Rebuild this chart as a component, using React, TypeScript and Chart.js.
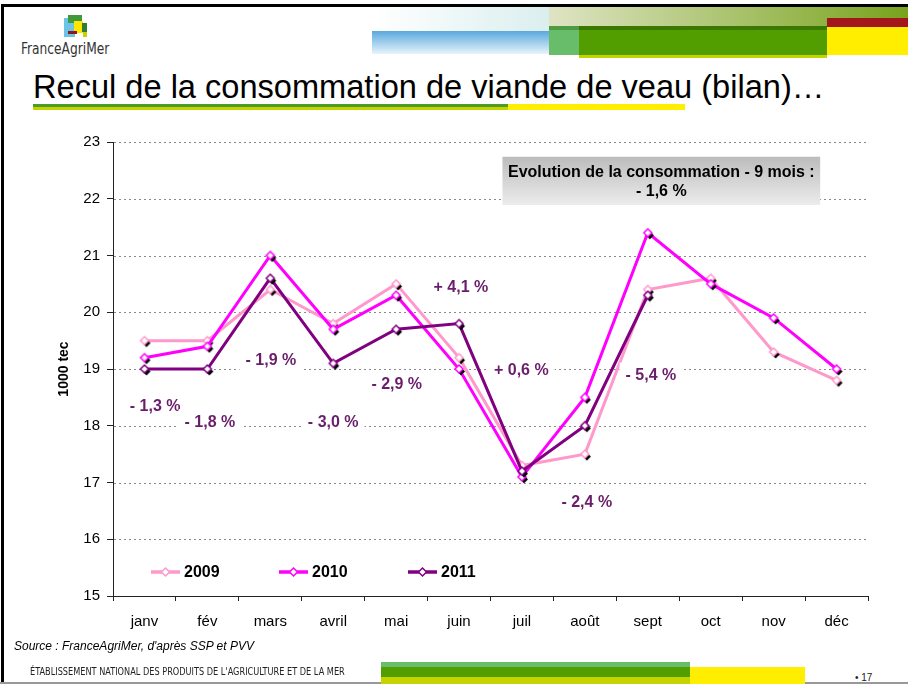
import React, { useEffect, useRef } from 'react';
import { Chart, registerables } from 'chart.js';

Chart.register(...registerables);

// ---------- data ----------
const months = ['janv', 'fév', 'mars', 'avril', 'mai', 'juin', 'juil', 'août', 'sept', 'oct', 'nov', 'déc'];
const seriesNames = ['2009', '2010', '2011'];
const values2009 = [19.5, 19.5, 20.4, 19.8, 20.5, 19.2, 17.3, 17.5, 20.4, 20.6, 19.3, 18.8];
const values2010 = [19.2, 19.4, 21.0, 19.7, 20.3, 19.0, 17.1, 18.5, 21.4, 20.5, 19.9, 19.0];
const values2011 = [19.0, 19.0, 20.6, 19.1, 19.7, 19.8, 17.2, 18.0, 20.3, null, null, null];
const yMin = 15;
const yMax = 23;
const yStep = 1;
const yTitle = '1000 tec';

// percent annotations: text, category position (index), value position
const pctLabels = ['- 1,3 %', '- 1,8 %', '- 1,9 %', '- 3,0 %', '- 2,9 %', '+ 4,1 %', '+ 0,6 %', '- 2,4 %', '- 5,4 %'];
const pctAtIndex = [0.17, 1.04, 2.01, 3.0, 4.01, 5.03, 5.99, 7.03, 8.05];
const pctAtValue = [18.35, 18.08, 19.16, 18.08, 18.74, 20.46, 18.99, 16.66, 18.9];

const boxLines = ['Evolution de la consommation - 9 mois :', '- 1,6 %'];

const colors = ['#FF99CC', '#FF00FF', '#800080'];
const labelColor = '#6a1d6a';
const FONT = '"Liberation Sans", Arial, Helvetica, sans-serif';
const NARROW = '"DejaVu Sans Condensed", "Liberation Sans", sans-serif';

function diamond(g: CanvasRenderingContext2D, cx: number, cy: number, r: number) {
  g.beginPath();
  g.moveTo(cx, cy - r);
  g.lineTo(cx + r, cy);
  g.lineTo(cx, cy + r);
  g.lineTo(cx - r, cy);
  g.closePath();
}

function makeMarker(color: string) {
  const size = 18;
  const c = document.createElement('canvas');
  c.width = size;
  c.height = size;
  const g = c.getContext('2d')!;
  const m = size / 2;
  diamond(g, m + 2, m + 2.5, 4);
  g.fillStyle = '#000';
  g.fill();
  diamond(g, m, m, 4);
  g.fillStyle = '#fff';
  g.fill();
  g.lineWidth = 1.5;
  g.strokeStyle = color;
  g.stroke();
  return c;
}

const gridPlugin = {
  id: 'dottedGrid',
  beforeDatasetsDraw(chart: any) {
    const { ctx, chartArea, scales } = chart;
    const ys = scales.y;
    ctx.save();
    ctx.strokeStyle = '#8a8a8a';
    ctx.lineWidth = 1;
    ctx.setLineDash([2, 3]);
    for (let v = yMin + yStep; v <= yMax + 1e-9; v += yStep) {
      const py = Math.round(ys.getPixelForValue(v)) + 0.5;
      ctx.beginPath();
      ctx.moveTo(chartArea.left + 1, py);
      ctx.lineTo(chartArea.right, py);
      ctx.stroke();
    }
    ctx.restore();
  },
};

const overlayPlugin = {
  id: 'overlay',
  afterDatasetsDraw(chart: any) {
    const { ctx, chartArea, scales } = chart;
    const xs = scales.x;
    const ys = scales.y;
    ctx.save();

    // percent labels
    ctx.font = `bold 16px ${FONT}`;
    ctx.textAlign = 'center';
    ctx.textBaseline = 'middle';
    pctLabels.forEach((t, i) => {
      const px = xs.getPixelForValue(pctAtIndex[i]);
      const py = ys.getPixelForValue(pctAtValue[i]);
      const w = ctx.measureText(t).width;
      ctx.fillStyle = '#fff';
      ctx.fillRect(px - w / 2 - 6, py - 12, w + 12, 24);
      ctx.fillStyle = labelColor;
      ctx.fillText(t, px, py + 1);
    });

    // grey box
    const bx1 = xs.getPixelForValue(5.69);
    const bx2 = xs.getPixelForValue(10.74);
    const by1 = ys.getPixelForValue(22.74);
    const by2 = ys.getPixelForValue(21.89);
    const grad = ctx.createLinearGradient(0, by1, 0, by2);
    grad.addColorStop(0, '#bcbcbc');
    grad.addColorStop(1, '#ececec');
    ctx.fillStyle = grad;
    ctx.fillRect(bx1, by1, bx2 - bx1, by2 - by1);
    ctx.fillStyle = '#000';
    ctx.font = `bold 16px ${FONT}`;
    const bcx = (bx1 + bx2) / 2;
    ctx.fillText(boxLines[0], bcx, by1 + 16);
    ctx.fillText(boxLines[1], bcx, by1 + 35);

    // legend
    const ly = chartArea.bottom - 24;
    const lxs = [38, 166, 295];
    seriesNames.forEach((name, i) => {
      const x0 = chartArea.left + lxs[i];
      ctx.strokeStyle = colors[i];
      ctx.lineWidth = 3.5;
      ctx.beginPath();
      ctx.moveTo(x0, ly);
      ctx.lineTo(x0 + 29, ly);
      ctx.stroke();
      diamond(ctx, x0 + 14.5, ly, 4);
      ctx.fillStyle = '#fff';
      ctx.fill();
      ctx.lineWidth = 1.5;
      ctx.stroke();
      ctx.fillStyle = '#000';
      ctx.font = `bold 16px ${FONT}`;
      ctx.textAlign = 'left';
      ctx.fillText(name, x0 + 33, ly + 1);
    });

    // y title
    ctx.translate(64, (chartArea.top + chartArea.bottom) / 2);
    ctx.rotate(-Math.PI / 2);
    ctx.textAlign = 'center';
    ctx.font = `bold 14px ${FONT}`;
    ctx.fillStyle = '#000';
    ctx.fillText(yTitle, 0, 0);
    ctx.restore();
  },
};

function Box(p: { l: number; t: number; w: number; h: number; bg: string }) {
  return <div style={{ position: 'absolute', left: p.l, top: p.t, width: p.w, height: p.h, background: p.bg }} />;
}

export default function App() {
  const ref = useRef<HTMLCanvasElement>(null);

  useEffect(() => {
    const markers = colors.map(makeMarker);
    const seriesValues = [values2009, values2010, values2011];
    const chart = new Chart(ref.current!, {
      type: 'line',
      data: {
        labels: months,
        datasets: seriesNames.map((name, i) => ({
          label: name,
          data: seriesValues[i],
          borderColor: colors[i],
          backgroundColor: colors[i],
          borderWidth: 3,
          pointStyle: markers[i] as any,
          pointRadius: 5,
          tension: 0,
          spanGaps: false,
          order: 3 - i,
        })),
      },
      options: {
        responsive: false,
        animation: false,
        events: [],
        layout: { padding: { left: 0, right: 40, top: 22, bottom: 0 } },
        plugins: {
          legend: { display: false },
          tooltip: { enabled: false },
        },
        scales: {
          x: {
            type: 'category',
            offset: true,
            grid: {
              offset: true,
              drawOnChartArea: false,
              drawTicks: true,
              tickLength: 5,
              tickColor: '#222',
              tickWidth: 1,
            },
            border: { display: true, color: '#222', width: 1 },
            ticks: {
              color: '#000',
              font: { family: FONT, size: 15 },
              padding: 12,
              maxRotation: 0,
              autoSkip: false,
            },
            afterFit: (s: any) => {
              s.height = 44;
            },
          },
          y: {
            type: 'linear',
            min: yMin,
            max: yMax,
            ticks: {
              stepSize: yStep,
              color: '#000',
              font: { family: FONT, size: 15 },
              padding: 7,
            },
            grid: {
              drawOnChartArea: false,
              drawTicks: true,
              tickLength: 6,
              tickColor: '#222',
              tickWidth: 1,
            },
            border: { display: true, color: '#222', width: 1 },
            afterFit: (s: any) => {
              s.width = 113;
            },
          },
        },
      },
      plugins: [gridPlugin, overlayPlugin],
    });
    return () => chart.destroy();
  }, []);

  return (
    <div style={{ position: 'absolute', left: 0, top: 0, width: 908, height: 684, background: '#fff', overflow: 'hidden' }}>
      {/* frame */}
      <Box l={1} t={4} w={907} h={3} bg="#000" />
      <Box l={1} t={4} w={3} h={680} bg="#000" />
      {/* header bands */}
      <div style={{ position: 'absolute', left: 372, top: 7, width: 177, height: 24, background: 'linear-gradient(to right, #ffffff, #dbeeee)' }} />
      <div style={{ position: 'absolute', left: 372, top: 31, width: 177, height: 23, background: 'linear-gradient(to bottom, #5aa8de, #e8f4fb)' }} />
      <div style={{ position: 'absolute', left: 549, top: 7, width: 359, height: 20, background: 'linear-gradient(to right, #dfe4c4, #78a31c)' }} />
      <Box l={827} t={18} w={81} h={9} bg="#a3161c" />
      <Box l={549} t={26} w={30} h={4} bg="#4d9c45" />
      <Box l={579} t={26} w={248} h={4} bg="#3a7800" />
      <Box l={549} t={30} w={30} h={25} bg="#68bd6b" />
      <Box l={579} t={30} w={248} h={25} bg="#529e00" />
      <Box l={579} t={55} w={248} h={3} bg="#c5d300" />
      <Box l={827} t={27} w={81} h={28} bg="#ffee00" />
      {/* logo */}
      <Box l={64} t={18} w={11} h={19} bg="#6cc3e6" />
      <Box l={68} t={15} w={14} h={8} bg="#3f9a3a" />
      <Box l={74} t={21} w={9} h={12} bg="#ffe600" />
      <Box l={82} t={23} w={5} h={9} bg="#2e7d32" />
      <Box l={68} t={31} w={9} h={3} bg="#8b1a1a" />
      <Box l={83} t={32} w={4} h={5} bg="#c5d300" />
      <div style={{ position: 'absolute', left: 21, top: 41, fontFamily: NARROW, fontSize: 16, lineHeight: '16px', color: '#333', whiteSpace: 'nowrap', transform: 'scaleX(0.85)', transformOrigin: 'left top' }}>
        FranceAgriMer
      </div>
      {/* title */}
      <div style={{ position: 'absolute', left: 33, top: 71, fontFamily: FONT, fontSize: 32.6, lineHeight: '32px', color: '#000', whiteSpace: 'nowrap' }}>
        Recul de la consommation de viande de veau (bilan)…
      </div>
      <Box l={33} t={104} w={475} h={3} bg="#4d9c2a" />
      <Box l={33} t={107} w={475} h={3} bg="#c5d300" />
      <Box l={508} t={104} w={177} h={6} bg="#ffee00" />
      {/* chart */}
      <canvas ref={ref} width={908} height={520} style={{ position: 'absolute', left: 0, top: 120, width: 908, height: 520 }} />
      {/* source */}
      <div style={{ position: 'absolute', left: 14, top: 640, fontFamily: FONT, fontStyle: 'italic', fontSize: 12, lineHeight: '12px', color: '#000', whiteSpace: 'nowrap' }}>
        Source : FranceAgriMer, d'après SSP et PVV
      </div>
      {/* footer */}
      <div style={{ position: 'absolute', left: 30, top: 667, fontFamily: NARROW, fontSize: 10, lineHeight: '10px', color: '#222', whiteSpace: 'nowrap', transform: 'scaleX(0.91)', transformOrigin: 'left top' }}>
        ÉTABLISSEMENT NATIONAL DES PRODUITS DE L'AGRICULTURE ET DE LA MER
      </div>
      <Box l={0} t={682} w={908} h={2} bg="#999" />
      <Box l={381} t={662} w={309} h={5} bg="#68bd6b" />
      <Box l={381} t={667} w={309} h={10} bg="#529e00" />
      <Box l={381} t={677} w={309} h={7} bg="#c5d300" />
      <Box l={690} t={667} w={115} h={17} bg="#ffee00" />
      <div style={{ position: 'absolute', left: 855, top: 673, fontFamily: FONT, fontSize: 10, lineHeight: '10px', color: '#222', whiteSpace: 'nowrap' }}>
        • 17
      </div>
    </div>
  );
}
